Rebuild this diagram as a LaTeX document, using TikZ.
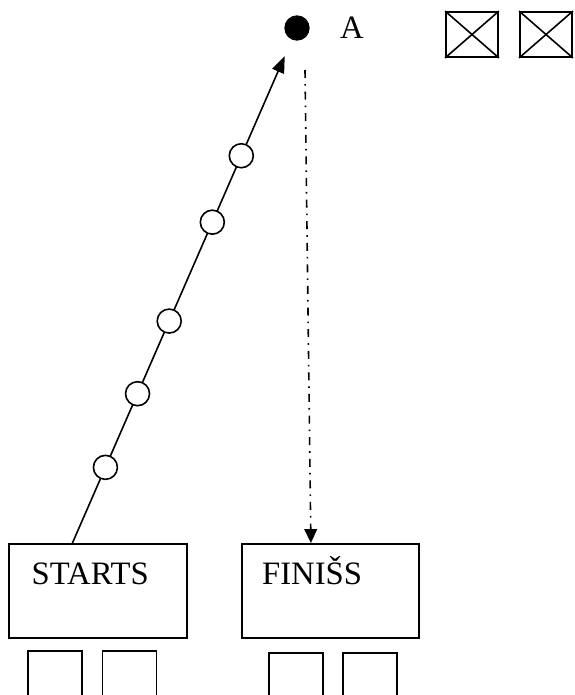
\documentclass[tikz,border=0pt]{standalone}
\usepackage{fontspec}
\setmainfont{Liberation Serif}
\usetikzlibrary{calc}
\usetikzlibrary{arrows.meta}

\begin{document}
\begin{tikzpicture}[x=0.75pt,y=-0.75pt,
    box/.style={draw,line width=1.4pt,minimum width=133pt,minimum height=70.5pt,inner sep=0pt},
    small/.style={draw,line width=1.4pt,minimum width=40.5pt,minimum height=45pt,inner sep=0pt},
    cross/.style={draw,line width=1.4pt,minimum width=39pt,minimum height=33.75pt,inner sep=0pt},
    bead/.style={circle,draw,fill=white,line width=1.2pt,minimum size=18pt,inner sep=0pt},
    txt/.style={inner sep=0pt,font=\fontsize{24.5}{29}\selectfont}]
            \clip (0,0) rectangle (574,695);
            % boxes
            \node[box] (start) at (98,591) {};
            \node[box] (finish) at (330.5,591) {};
            \node[txt,anchor=base west] (starttxt) at ($(start.north west)+(23,41)$) {STARTS};
            \node[txt,anchor=base west] (finishtxt) at ($(finish.north west)+(21,41)$) {FINIŠS};
            \node[small] (s1) at (55,681) {};
            \node[small] (s2) at (129.5,681) {};
            \node[small] (s3) at (296,683) {};
            \node[small] (s4) at (370,683) {};
            % point A
            \node[circle,fill=black,minimum size=19pt,inner sep=0pt] (dot) at (297,28) {};
            \node[txt] (lblA) at (352,28) {A};
            \node[cross] (x1) at (472,34.5) {};
            \node[cross] (x2) at (546,34.5) {};
            \foreach \b in {x1,x2} {
                \draw[line width=1.2pt] (\b.north west) -- (\b.south east);
                \draw[line width=1.2pt] (\b.north east) -- (\b.south west);
            }
            % path from the start
            \coordinate (s) at ($(start.north west)+(64,0)$);
            \draw[line width=1.2pt,-{Triangle[length=12.5pt,width=9.5pt]},shorten >=23pt] (s) -- (dot.center);
            \foreach \t [count=\i] in {0.147,0.290,0.431,0.623,0.752} {
                \node[bead] (c\i) at ($(s)!\t!(dot.center)$) {};
            }
            % return to the finish
            \coordinate (t) at (305,70);
            \coordinate (f) at ($(finish.north west)+(70,0)$);
            \draw[line width=1.2pt,dash pattern=on 6pt off 4.5pt on 1.2pt off 4.5pt,
                -{Triangle[length=10.5pt,width=9.5pt]}] (t) -- (f);
        \end{tikzpicture}
\end{document}
